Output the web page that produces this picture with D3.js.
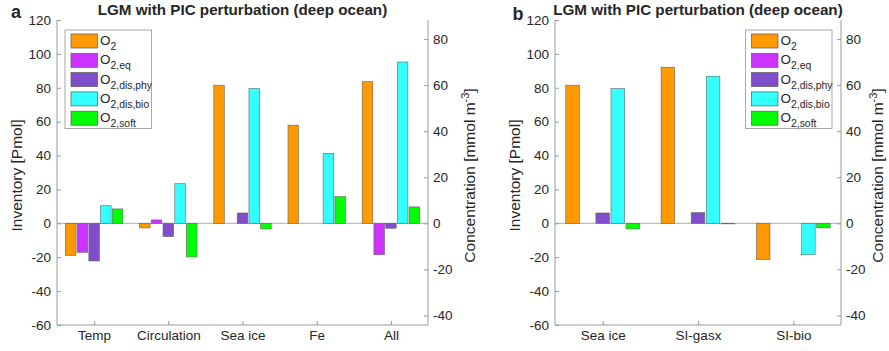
<!DOCTYPE html>
<html><head><meta charset="utf-8">
<script src="https://cdn.jsdelivr.net/npm/d3@7"></script>
<style>
body{margin:0;background:#fff;}
text{font-family:"Liberation Sans",Arial,Helvetica,sans-serif;fill:#262626;}
</style></head>
<body><svg id="chart" width="889" height="351"></svg>
<script>
// ---- data (Inventory, Pmol) ----
const seriesNames = ["O2","O2,eq","O2,dis,phy","O2,dis,bio","O2,soft"];
const seriesColors = ["#ff9900","#cc33ff","#7f4dcc","#33ffff","#00ff00"];

const categoriesA = ["Temp","Circulation","Sea ice","Fe","All"];
const o2A    = [-18.9, -2.7, 81.5, 57.9, 83.6];
const eqA    = [-17.1,  2.0,  0.0,  0.0, -18.5];
const phyA   = [-22.2, -7.8,  6.1,  0.0, -2.9];
const bioA   = [ 10.4, 23.4, 79.5, 41.3, 95.2];
const softA  = [  8.5, -19.8, -3.3, 15.8,  9.7];

const categoriesB = ["Sea ice","SI-gasx","SI-bio"];
const o2B    = [81.5, 92.1, -21.4];
const eqB    = [ 0.0,  0.0,   0.0];
const phyB   = [ 6.1,  6.3,   0.0];
const bioB   = [79.5, 86.8, -18.5];
const softB  = [-3.3, -0.3,  -2.7];

const leftTicks  = [-60,-40,-20,0,20,40,60,80,100,120];
const rightTicks = [-40,-20,0,20,40,60,80];
const invDomain = [-60, 120];
const concPerPmol = 0.7357; // right-axis scaling
const titleText = "LGM with PIC perturbation (deep ocean)";

// ---- drawing ----
const svg = d3.select("#chart");
const axisCol = "#9a9a9a";
const fontTick = 13.5;
const fmt = d => String(d); // hyphen-minus like the reference

function legendLabel(sel, name, fs){
  const sub = name.slice(1); // after "O"
  sel.append("tspan").text("O");
  sel.append("tspan").attr("font-size", fs*0.77).attr("dy", 5).text(sub);
}

function panel(cfg){
  const {left,right,top,bottom,cats,series,letter,legendX,letterX,letterY} = cfg;
  const g = svg.append("g");
  const y = d3.scaleLinear().domain(invDomain).range([bottom, top]);
  const yR = d3.scaleLinear().domain(invDomain.map(v=>v*concPerPmol)).range([bottom, top]);
  const x = d3.scaleLinear().domain([0.5, cats.length+0.5]).range([left, right]);
  const step = x(2)-x(1);
  const slot = 0.158, bw = 0.142;

  // zero baseline
  g.append("line").attr("x1",left).attr("x2",right).attr("y1",y(0)).attr("y2",y(0))
    .attr("stroke","#bdbdbd").attr("stroke-width",1.2);

  // bars
  series.forEach((vals,j)=>{
    g.selectAll(null).data(vals).enter().append("rect")
      .attr("x",(d,i)=> x(i+1+(j-2)*slot) - bw*step/2)
      .attr("width", bw*step)
      .attr("y", d=> y(Math.max(0,d)))
      .attr("height", d=> Math.abs(y(d)-y(0)))
      .attr("fill", seriesColors[j])
      .attr("stroke","#5a5a5a").attr("stroke-width",0.7).attr("stroke-opacity",0.8);
  });

  // left axis
  const ax = d3.axisLeft(y).tickValues(leftTicks).tickSize(-4).tickPadding(6).tickFormat(fmt);
  const gl = g.append("g").attr("transform",`translate(${left},0)`).call(ax);
  // right axis
  const axR = d3.axisRight(yR).tickValues(rightTicks).tickSize(-4).tickPadding(5).tickFormat(fmt);
  const gr = g.append("g").attr("transform",`translate(${right},0)`).call(axR);
  // bottom axis
  const axB = d3.axisBottom(x).tickValues(d3.range(1,cats.length+1)).tickSize(-4).tickPadding(7)
    .tickFormat(d=>cats[d-1]);
  const gb = g.append("g").attr("transform",`translate(0,${bottom})`).call(axB);
  [gl,gr,gb].forEach(a=>{
    a.select(".domain").attr("stroke",axisCol).attr("stroke-width",1);
    a.selectAll(".tick line").attr("stroke",axisCol);
    a.selectAll(".tick text").attr("font-size",fontTick).attr("fill","#262626")
      .style("font-family",'"Liberation Sans",Arial,sans-serif');
  });
  gl.select(".domain").attr("d",`M0,${bottom}V${top}`);
  gr.select(".domain").attr("d",`M0,${bottom}V${top}`);
  gb.select(".domain").attr("d",`M${left},0H${right}`);
  gb.selectAll(".tick text").attr("dy","0.75em").attr("y",5);

  // axis labels
  const midY = (top+bottom)/2 + 3;
  g.append("text").attr("transform",`translate(${cfg.labelLX},${midY}) rotate(-90)`)
    .attr("text-anchor","middle").attr("font-size",15.5).text("Inventory [Pmol]");
  const tc = g.append("text").attr("transform",`translate(${cfg.labelRX},${midY}) rotate(-90)`)
    .attr("text-anchor","middle").attr("font-size",15.5);
  tc.append("tspan").text("Concentration [mmol m");
  tc.append("tspan").attr("font-size",11).attr("dy",-6).text("-3");
  tc.append("tspan").attr("dy",6).text("]");

  // title & letter
  g.append("text").attr("x",(left+right)/2).attr("y",15).attr("text-anchor","middle")
    .attr("font-size",15.2).attr("font-weight","bold").attr("fill","#000").text(titleText);
  g.append("text").attr("x",letterX).attr("y",letterY).attr("font-size",18)
    .attr("font-weight","bold").attr("fill","#000").text(letter);

  // legend
  const lg = g.append("g").attr("transform",`translate(${legendX},30)`);
  lg.append("rect").attr("x",0).attr("y",0).attr("width",86.5).attr("height",98.5)
    .attr("fill","#fff").attr("stroke","#a8a8a8").attr("stroke-width",1);
  seriesNames.forEach((n,j)=>{
    const yy = 4 + j*19.3;
    lg.append("rect").attr("x",6).attr("y",yy).attr("width",26.5).attr("height",14)
      .attr("fill",seriesColors[j]).attr("stroke","#5a5a5a").attr("stroke-width",0.7);
    const t = lg.append("text").attr("x",35).attr("y",yy+11).attr("font-size",13.5).attr("fill","#000");
    legendLabel(t, n, 13.5);
  });
}

panel({left:57,right:428,top:20,bottom:325,cats:categoriesA,
  series:[o2A,eqA,phyA,bioA,softA],letter:"a",legendX:65,letterX:11,letterY:17.5,
  labelLX:22,labelRX:475});
panel({left:555,right:841,top:20,bottom:325,cats:categoriesB,
  series:[o2B,eqB,phyB,bioB,softB],letter:"b",legendX:745.5,letterX:512.5,letterY:20,
  labelLX:520,labelRX:883});
</script></body></html>
